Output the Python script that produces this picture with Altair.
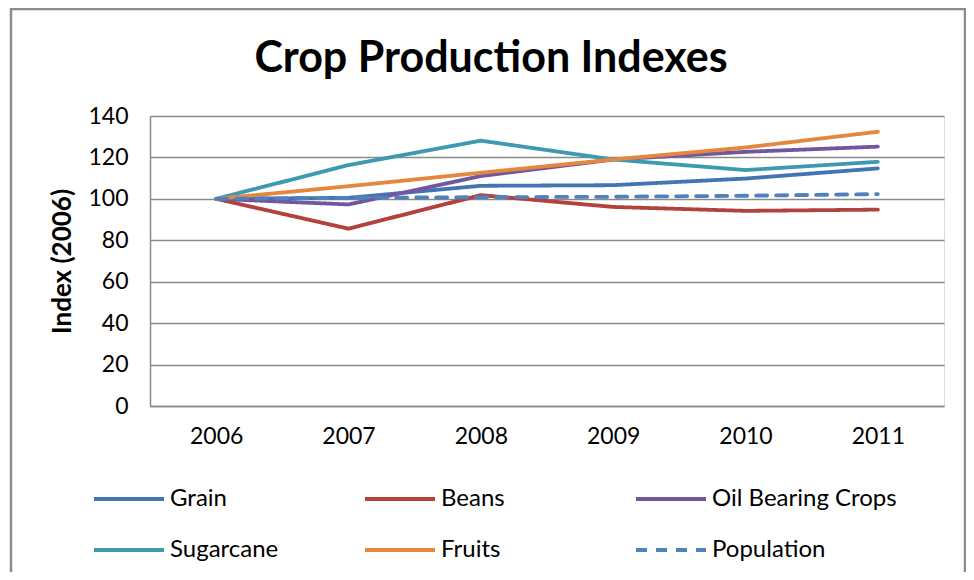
import altair as alt
import pandas as pd

years = ["2006", "2007", "2008", "2009", "2010", "2011"]
series_names = ["Grain", "Beans", "Oil Bearing Crops", "Sugarcane", "Fruits", "Population"]
grain = [100, 100.5, 106.3, 106.6, 109.8, 114.7]
beans = [100, 85.6, 101.8, 96.1, 94.2, 94.8]
oil = [100, 97.3, 111.0, 119.0, 122.7, 125.2]
sugarcane = [100, 116.3, 128.1, 119.0, 113.9, 117.9]
fruits = [100, 106.1, 112.6, 119.0, 124.8, 132.4]
population = [100, 100.5, 100.8, 101.0, 101.5, 102.3]
chart_title = ["Crop Production Indexes"]

colors = ["#4374B3", "#B3413E", "#7157A0", "#3F9AB1", "#E5883E", "#4F81BD"]
dashes = [[1, 0], [1, 0], [1, 0], [1, 0], [1, 0], [11, 9]]

values = [grain, beans, oil, sugarcane, fruits, population]
rows = []
for name, vals in zip(series_names, values):
    for y, v in zip(years, vals):
        rows.append({"Year": y, "Index": v, "Series": name})
df = pd.DataFrame(rows)

FONT = "Lato"

legend_kw = dict(title=None, orient="none", legendX=-35, legendY=369,
                 direction="horizontal", columns=3, gridAlign="all",
                 columnPadding=2, rowPadding=25,
                 symbolType="M-3,0H3", symbolSize=544, symbolStrokeWidth=4,
                 labelFont=FONT, labelFontSize=24, labelColor="#000000",
                 labelOffset=27, labelLimit=400)

lines = alt.Chart(df).mark_line(strokeWidth=3.8, strokeCap="round", strokeJoin="round").encode(
    x=alt.X("Year:N", sort=years, title=None,
            scale=alt.Scale(paddingInner=0, paddingOuter=0.5),
            axis=alt.Axis(labelAngle=0, labelFontSize=23, labelFont=FONT, labelColor="#000000",
                          labelPadding=19, ticks=False, domainColor="#8a8a8a", domainWidth=1.5,
                          grid=False)),
    y=alt.Y("Index:Q", title="Index (2006)",
            scale=alt.Scale(domain=[0, 140], nice=False),
            axis=alt.Axis(values=[0, 20, 40, 60, 80, 100, 120, 140], labelFontSize=23, labelFont=FONT,
                          labelColor="#000000", labelPadding=22, ticks=False,
                          domainColor="#8a8a8a", domainWidth=1.5,
                          gridColor="#8a8a8a", gridWidth=1.3,
                          titleFont=FONT, titleFontSize=26, titleFontWeight="bold",
                          titleColor="#000000", titlePadding=12)),
    color=alt.Color("Series:N", scale=alt.Scale(domain=series_names, range=colors),
                    legend=alt.Legend(**legend_kw)),
    strokeDash=alt.StrokeDash("Series:N", scale=alt.Scale(domain=series_names, range=dashes),
                              legend=alt.Legend(**legend_kw)),
)

frame = alt.Chart(pd.DataFrame({"a": [0]})).mark_rect(
    fill=None, stroke="#8c8c8c", strokeWidth=2.5
).encode(
    x=alt.value(-139), x2=alt.value(815), y=alt.value(-107), y2=alt.value(480)
)

title = alt.Chart(pd.DataFrame({"t": chart_title})).mark_text(
    font=FONT, fontSize=43, fontWeight="bold", color="#000000",
    align="center", baseline="alphabetic"
).encode(
    text="t:N", x=alt.value(341), y=alt.value(-44)
)

chart = alt.layer(frame, lines, title).properties(
    width=794, height=290,
    autosize=alt.AutoSizeParams(type="none"),
    padding={"left": 142, "top": 108, "right": 22, "bottom": 166},
).configure_view(stroke=None).configure(background="white")

chart.save("out.html", embed_options={"renderer": "svg", "actions": False})
